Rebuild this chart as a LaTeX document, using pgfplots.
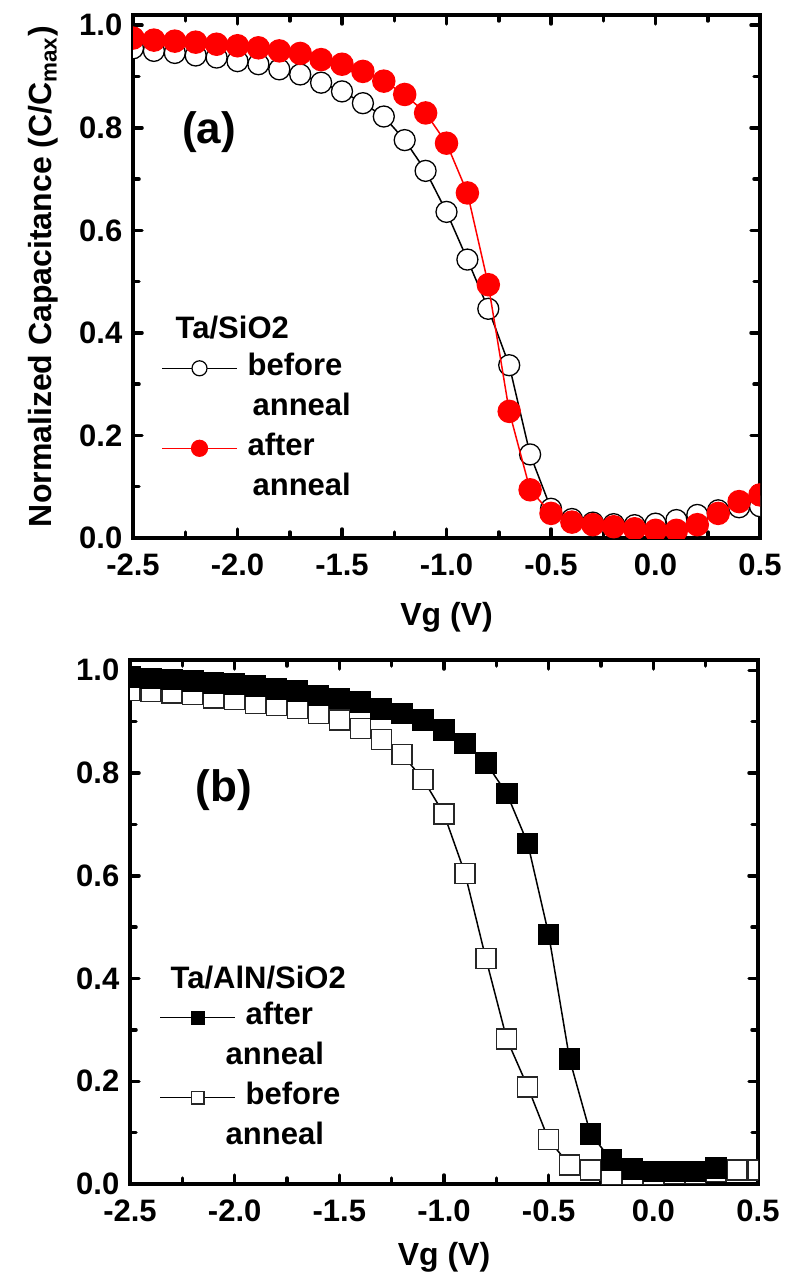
\documentclass[border=0pt]{standalone}
\usepackage{fontspec}
\setmainfont{Liberation Sans}
\usepackage{pgfplots}
\pgfplotsset{compat=1.18}
\pgfplotsset{
  cv/.style={
    scale only axis,
    xmin=-2.5, xmax=0.5, ymin=0, ymax=1.02,
    xtick={-2.5,-2,-1.5,-1,-0.5,0,0.5},
    xticklabels={-2.5,-2.0,-1.5,-1.0,-0.5,0.0,0.5},
    ytick={0,0.2,0.4,0.6,0.8,1.0},
    yticklabels={0.0,0.2,0.4,0.6,0.8,1.0},
    minor xtick={-2.25,-1.75,-1.25,-0.75,-0.25,0.25},
    minor ytick={0.1,0.3,0.5,0.7,0.9},
    tick align=inside,
    major tick length=4.5pt, minor tick length=3pt,
    every tick/.append style={black, line width=1.75pt, line cap=round},
    axis line style={line width=2.2pt},
    tick label style={font=\fontsize{15.5pt}{18pt}\selectfont\bfseries},
    xticklabel style={yshift=-2.5pt},
    label style={font=\fontsize{16pt}{19pt}\selectfont\bfseries},
    clip marker paths=true,
    legend image code/.code={\draw[mark repeat=2,mark phase=2,##1] plot coordinates {(0pt,0pt) (18.75pt,0pt) (37.5pt,0pt)};},
    legend cell align=left,
    legend style={draw=none, fill=none, inner sep=0pt, column sep=5pt, row sep=5pt,
      nodes={inner sep=0pt, text height=11pt, text depth=4pt, font=\fontsize{15.5pt}{18pt}\selectfont\bfseries}},
  }
}
\pgfplotstableread{
x y
-2.5 0.955
-2.4 0.950
-2.3 0.946
-2.2 0.941
-2.1 0.937
-2.0 0.930
-1.9 0.924
-1.8 0.914
-1.7 0.904
-1.6 0.888
-1.5 0.871
-1.4 0.848
-1.3 0.822
-1.2 0.776
-1.1 0.716
-1.0 0.636
-0.9 0.543
-0.8 0.447
-0.7 0.337
-0.6 0.163
-0.5 0.057
-0.4 0.037
-0.3 0.030
-0.2 0.027
-0.1 0.025
0.0 0.028
0.1 0.035
0.2 0.045
0.3 0.054
0.4 0.060
0.5 0.062
}\abefore
\pgfplotstableread{
x y
-2.5 0.975
-2.4 0.971
-2.3 0.969
-2.2 0.967
-2.1 0.963
-2.0 0.960
-1.9 0.956
-1.8 0.950
-1.7 0.945
-1.6 0.933
-1.5 0.924
-1.4 0.910
-1.3 0.891
-1.2 0.865
-1.1 0.829
-1.0 0.770
-0.9 0.673
-0.8 0.494
-0.7 0.247
-0.6 0.094
-0.5 0.048
-0.4 0.031
-0.3 0.026
-0.2 0.022
-0.1 0.018
0.0 0.015
0.1 0.015
0.2 0.026
0.3 0.048
0.4 0.071
0.5 0.084
}\aafter
\pgfplotstableread{
x y
-2.5 0.987
-2.4 0.984
-2.3 0.982
-2.2 0.979
-2.1 0.975
-2.0 0.973
-1.9 0.969
-1.8 0.964
-1.7 0.960
-1.6 0.951
-1.5 0.945
-1.4 0.938
-1.3 0.925
-1.2 0.916
-1.1 0.903
-1.0 0.884
-0.9 0.857
-0.8 0.820
-0.7 0.760
-0.6 0.663
-0.5 0.486
-0.4 0.243
-0.3 0.097
-0.2 0.047
-0.1 0.029
0.0 0.024
0.1 0.024
0.2 0.024
0.3 0.031
}\bafter
\pgfplotstableread{
x y
-2.5 0.961
-2.4 0.959
-2.3 0.956
-2.2 0.953
-2.1 0.946
-2.0 0.943
-1.9 0.936
-1.8 0.932
-1.7 0.925
-1.6 0.916
-1.5 0.903
-1.4 0.887
-1.3 0.865
-1.2 0.836
-1.1 0.788
-1.0 0.720
-0.9 0.605
-0.8 0.439
-0.7 0.282
-0.6 0.189
-0.5 0.086
-0.4 0.037
-0.3 0.027
-0.2 0.018
-0.1 0.018
0.0 0.019
0.1 0.020
0.2 0.020
0.3 0.025
0.4 0.027
0.5 0.027
}\bbefore
\begin{document}
\fontsize{15.5pt}{18pt}\selectfont\bfseries
\begin{tikzpicture}
\useasboundingbox (0,0) rectangle (392.5pt,-638.5pt);
% ---------- panel (a)
\begin{axis}[cv, width=313.5pt, height=261.5pt, at={(66.5pt,-269pt)}, anchor=south west,
  xlabel={Vg (V)}, xlabel style={yshift=-3pt},
  ylabel={Normalized Capacitance (C/C\textsubscript{max})},
  legend style={at={(axis cs:-2.366,0.361)}, anchor=north west}]
\addplot[black, line width=0.75pt, mark=*, mark size=5.25pt, mark options={fill=white, draw=black, line width=0.65pt}, forget plot] table {\abefore};
\addplot[red, line width=0.75pt, mark=*, mark size=5.5pt, mark options={fill=red, draw=red}, forget plot] table {\aafter};
\addlegendimage{black, line width=0.6pt, mark=*, mark size=3.75pt, mark options={fill=white, draw=black, line width=0.6pt}}
\addlegendentry{before}
\addlegendimage{empty legend}
\addlegendentry{\hspace{2.5pt}anneal}
\addlegendimage{red, line width=0.6pt, mark=*, mark size=4pt, mark options={fill=red, draw=red}}
\addlegendentry{after}
\addlegendimage{empty legend}
\addlegendentry{\hspace{2.5pt}anneal}
\node[anchor=west] at (axis cs:-2.347,0.41) {Ta/SiO2};
\node at (axis cs:-2.136,0.792) {\fontsize{22pt}{26pt}\selectfont\bfseries (a)};
\end{axis}
% ---------- panel (b)
\begin{axis}[cv, width=314pt, height=262pt, at={(65pt,-592pt)}, anchor=south west,
  xlabel={Vg (V)}, xlabel style={yshift=0pt},
  legend style={at={(axis cs:-2.361,0.354)}, anchor=north west}]
\addplot[black, line width=0.75pt, mark=square*, mark size=5pt, mark options={fill=white, draw=black!85, line width=0.65pt}, forget plot] table {\bbefore};
\addplot[black, line width=0.75pt, mark=square*, mark size=5pt, mark options={fill=black, draw=black}, forget plot] table {\bafter};
\addlegendimage{black, line width=0.6pt, mark=square*, mark size=3.2pt, mark options={fill=black}}
\addlegendentry{after}
\addlegendimage{empty legend}
\addlegendentry{\hspace{-10pt}anneal}
\addlegendimage{black, line width=0.6pt, mark=square*, mark size=3.2pt, mark options={fill=white, draw=black!85}}
\addlegendentry{before}
\addlegendimage{empty legend}
\addlegendentry{\hspace{-10pt}anneal}
\node[anchor=west] at (axis cs:-2.357,0.401) {Ta/AlN/SiO2};
\node at (axis cs:-2.051,0.767) {\fontsize{22pt}{26pt}\selectfont\bfseries (b)};
\end{axis}
\end{tikzpicture}
\end{document}
